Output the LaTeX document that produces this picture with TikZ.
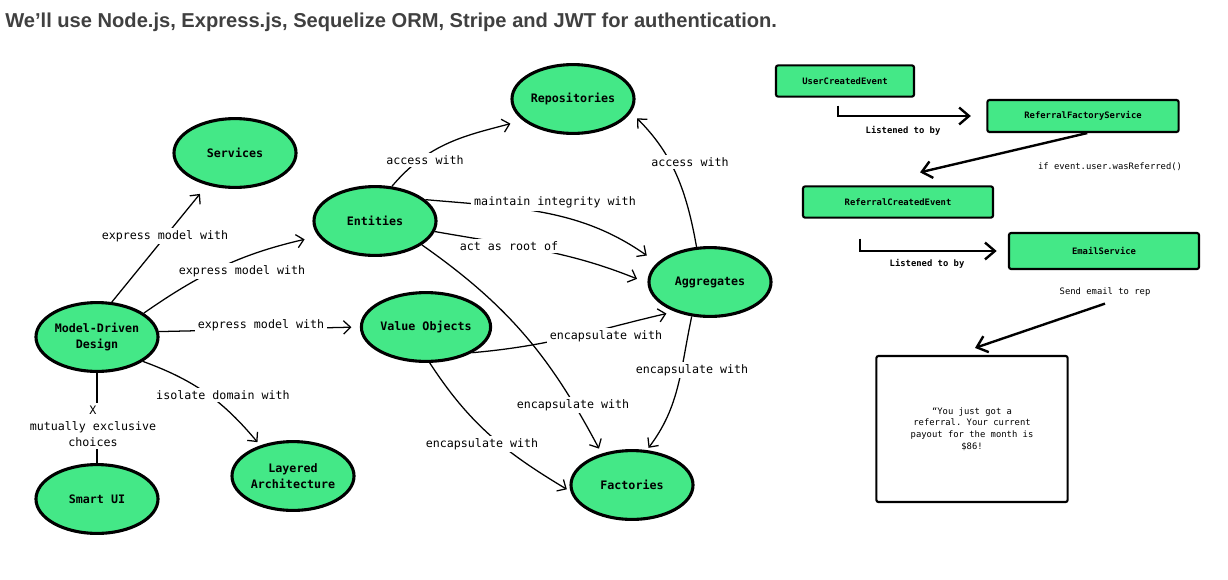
\documentclass[tikz,border=0pt]{standalone}
\usepackage{fontspec}
\setmainfont{Liberation Sans}
\setmonofont{DejaVu Sans Mono}
\usetikzlibrary{arrows.meta, positioning, calc, shapes.geometric}
\definecolor{dddgreen}{RGB}{68,232,135}
\definecolor{titlegrey}{RGB}{64,64,64}
\tikzset{
  concept/.style={ellipse, draw=black, line width=2.2pt, fill=dddgreen,
    minimum width=3.05cm, minimum height=1.72cm, inner sep=0pt, align=center,
    font=\ttfamily\bfseries\fontsize{8.3}{11}\selectfont},
  event/.style={rectangle, draw=black, line width=1.5pt, rounded corners=1.5pt,
    fill=dddgreen, inner sep=0pt, font=\ttfamily\bfseries\fontsize{6.3}{7.5}\selectfont},
  rel/.style={-{Straight Barb[length=5pt, width=9.5pt]}, line width=0.9pt},
  rellabel/.style={fill=white, inner sep=2pt, align=center,
    font=\ttfamily\fontsize{8.3}{11.4}\selectfont},
  flow/.style={-{Straight Barb[length=7pt, width=12pt]}, line width=1.7pt},
  flowlabel/.style={inner sep=1pt, font=\ttfamily\bfseries\fontsize{6.3}{7.5}\selectfont},
  notelabel/.style={inner sep=1pt, align=center, font=\ttfamily\fontsize{6.3}{8.4}\selectfont},
}

\begin{document}
\begin{tikzpicture}[x=0.025cm, y=0.025cm]
  \useasboundingbox (0,0) rectangle (1228,-579);

  % heading
  \node[anchor=base west, inner sep=0pt, text=titlegrey, font=\bfseries\fontsize{14.3}{16}\selectfont]
    (title) at (5,-27) {We’ll use Node.js, Express.js, Sequelize ORM, Stripe and JWT for authentication.};

  % domain concepts
  \node[concept] (serv)  at (235,-153) {Services};
  \node[concept] (mdd)   at (97,-337)  {Model-Driven\\Design};
  \node[concept] (sui)   at (97,-499)  {Smart UI};
  \node[concept] (layer) at (293,-476) {Layered\\Architecture};
  \node[concept] (ent)   at (375,-221) {Entities};
  \node[concept] (vo)    at (426,-327) {Value Objects};
  \node[concept] (repo)  at (573,-99)  {Repositories};
  \node[concept] (agg)   at (710,-282) {Aggregates};
  \node[concept] (fac)   at (632,-485) {Factories};

  % relations from the hub
  \draw[rel, shorten >=8pt] (mdd.67) -- (serv.229)
    node[rellabel] at (165,-236) {express model with};
  \draw[rel, shorten >=10pt] (mdd.27) to[out=35, in=193] (ent.195)
    node[rellabel] at (242,-271) {express model with};
  \draw[rel, shorten >=6pt] (mdd.5) -- (vo.west)
    node[rellabel] at (261,-325) {express model with};
  \draw[rel, shorten >=3pt] (mdd.-28) to[out=-20, in=130] (layer.137)
    node[rellabel] at (223,-395) {isolate domain with};
  \draw[line width=0.9pt] (mdd.south) -- (sui.north)
    node[rellabel] at (93,-426) {X\\mutually exclusive\\choices};

  % relations between building blocks
  \draw[rel, shorten >=9pt] (ent.64) to[out=50, in=195] (repo.203)
    node[rellabel] at (425,-160) {access with};
  \draw[rel, shorten >=6pt] (agg.111) to[out=100, in=-45] (repo.-13)
    node[rellabel] at (690,-162) {access with};
  \draw[rel, shorten >=9pt] (ent.23) to[out=-5, in=145] (agg.160)
    node[rellabel] at (555,-202) {maintain integrity with};
  \draw[rel, shorten >=8pt] (ent.-10) to[out=-10, in=158] (agg.181)
    node[rellabel] at (509,-246) {act as root of};
  \draw[rel, shorten >=4pt] (ent.-27) to[out=-35, in=118] (fac.134)
    node[rellabel] at (573,-405) {encapsulate with};
  \draw[rel, shorten >=6pt] (vo.-29) to[out=5, in=193] (agg.220)
    node[rellabel] at (606,-336) {encapsulate with};
  \draw[rel, shorten >=3pt] (vo.-84) to[out=-57, in=149] (fac.186)
    node[rellabel] at (482,-444) {encapsulate with};
  \draw[rel, shorten >=2pt] (agg.-118) to[out=-102, in=53] (fac.67)
    node[rellabel] at (692,-370) {encapsulate with};

  % event flow
  \node[event, minimum width=3.45cm, minimum height=0.78cm] (uce)   at (845,-81)   {UserCreatedEvent};
  \node[event, minimum width=4.78cm, minimum height=0.8cm]  (rfs)   at (1083,-116) {ReferralFactoryService};
  \node[event, minimum width=4.75cm, minimum height=0.78cm] (rce)   at (898,-202)  {ReferralCreatedEvent};
  \node[event, minimum width=4.75cm, minimum height=0.9cm]  (email) at (1104,-251) {EmailService};
  \node[draw=black, line width=1.5pt, rounded corners=1.5pt, fill=white,
    minimum width=4.78cm, minimum height=3.65cm, notelabel] (msg) at (972,-429)
    {“You just got a\\referral. Your current\\payout for the month is\\\$86!};

  \node[notelabel] (cond)    at (1110,-167) {if event.user.wasReferred()};
  \node[notelabel] (sendlbl) at (1105,-292) {Send email to rep};

  \draw[flow, shorten >=11pt] ([shift={(-7,-8)}]uce.south) |- (rfs.west)
    node[flowlabel] at (903,-131) {Listened to by};
  \draw[flow] ([xshift=3]rfs.south) -- ([shift={(22,13)}]rce.north);
  \draw[flow, shorten >=8pt] ([shift={(-38,-20)}]rce.south) |- (email.west)
    node[flowlabel] at (927,-264) {Listened to by};
  \draw[flow] ([yshift=-4]sendlbl.south) -- ([shift={(3,7)}]msg.north);

\end{tikzpicture}
\end{document}
